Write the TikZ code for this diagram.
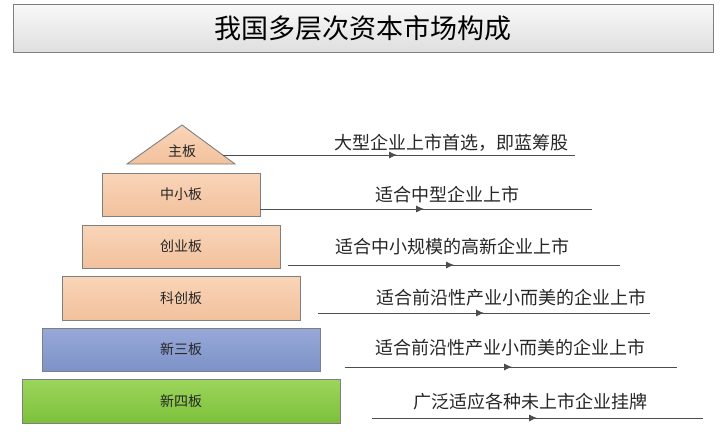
\documentclass[tikz,border=0pt]{standalone}
\usepackage{fontspec}
\setmainfont{Noto Sans CJK SC}
\usetikzlibrary{arrows.meta,shapes.geometric}
\definecolor{edgegray}{HTML}{7F7F7F}
\definecolor{linegray}{HTML}{4D4D4D}
\definecolor{txt}{HTML}{262626}
\tikzset{
  tier/.style={draw=edgegray, line width=0.9pt, inner sep=0pt, text=txt, font=\fontsize{14}{16}\selectfont},
  orangefill/.style={top color=orange1, bottom color=orange2},
  desc/.style={text=txt, font=\fontsize{18}{20}\selectfont, inner sep=0pt},
  ln/.style={draw=linegray, line width=0.8pt},
  ar/.style={draw=linegray, line width=0.8pt, -{Latex[length=8pt,width=7pt]}}
}
\definecolor{orange1}{HTML}{F9D5B8}
\definecolor{orange2}{HTML}{F2C19D}
\begin{document}
\begin{tikzpicture}[x=1pt,y=-1pt]
\useasboundingbox (0,0) rectangle (720,431);
% title
\shade[top color=gray!5, bottom color=gray!25, draw=edgegray, line width=1pt] (13,4) rectangle (713,52);
\node[text=black, font=\fontsize{27}{29}\selectfont] (title) at (363,28) {我国多层次资本市场构成};
% tiers
\shade[orangefill, draw=edgegray, line width=0.9pt] (127,164) -- (182,125) -- (235,164) -- cycle;
\node[text=txt, font=\fontsize{14}{16}\selectfont] (zhu) at (182,151) {主板};
\node[tier, orangefill, minimum width=158pt, minimum height=43pt] (zx) at (181,194.5) {中小板};
\node[tier, orangefill, minimum width=198pt, minimum height=43pt] (cy) at (181,246.5) {创业板};
\node[tier, orangefill, minimum width=238pt, minimum height=44pt] (kc) at (181,298) {科创板};
\node[tier, top color={rgb,255:red,152;green,169;blue,216}, bottom color={rgb,255:red,125;green,146;blue,200}, minimum width=278pt, minimum height=43pt] (xs) at (181,349.5) {新三板};
\node[tier, top color={rgb,255:red,157;green,213;blue,92}, bottom color={rgb,255:red,124;green,193;blue,58}, minimum width=318pt, minimum height=44pt] (xsi) at (181,401) {新四板};
% descriptions
\node[desc] (d1) at (451,143) {大型企业上市首选，即蓝筹股};
\node[desc] (d2) at (447,195) {适合中型企业上市};
\node[desc] (d3) at (452,247) {适合中小规模的高新企业上市};
\node[desc] (d4) at (511,298) {适合前沿性产业小而美的企业上市};
\node[desc] (d5) at (510,348) {适合前沿性产业小而美的企业上市};
\node[desc] (d6) at (530,402) {广泛适应各种未上市企业挂牌};
% line coordinates
\coordinate (s1) at (223,155); \coordinate (m1) at (397,155); \coordinate (e1) at (575,155);
\coordinate (s2) at (260,209); \coordinate (m2) at (424,209); \coordinate (e2) at (592,209);
\coordinate (s3) at (288,265); \coordinate (m3) at (454,265); \coordinate (e3) at (620,265);
\coordinate (s4) at (318,313); \coordinate (m4) at (484,313); \coordinate (e4) at (650,313);
\coordinate (s5) at (345,367); \coordinate (m5) at (512,367); \coordinate (e5) at (677,367);
\coordinate (s6) at (372,418); \coordinate (m6) at (537,418); \coordinate (e6) at (703,418);
\foreach \i in {1,...,6}{
  \draw[ln] (s\i) -- (e\i);
  \draw[ar] (s\i) -- (m\i);
}
\end{tikzpicture}
\end{document}
